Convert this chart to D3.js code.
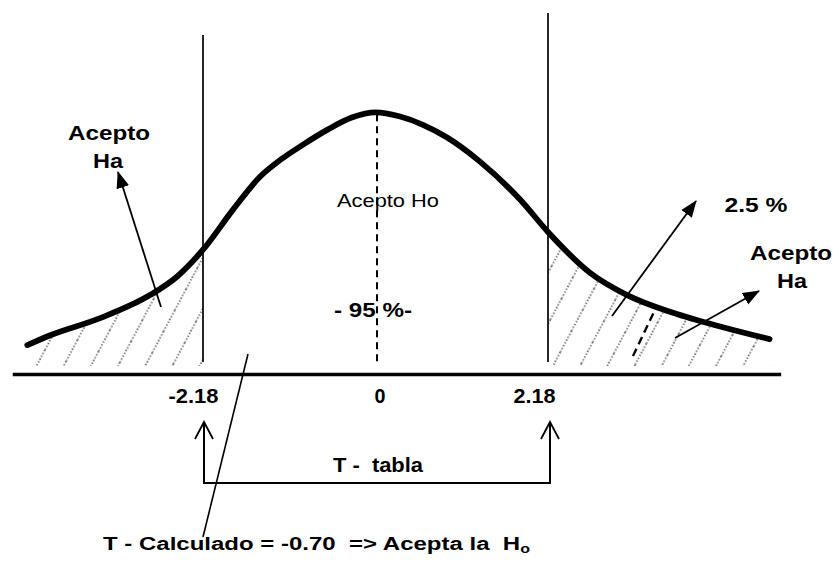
<!DOCTYPE html>
<html>
<head>
<meta charset="utf-8">
<script src="https://cdn.jsdelivr.net/npm/d3@7"></script>
<style>
  html, body { margin: 0; padding: 0; background: #fff; }
  svg { display: block; }
  text { font-family: "Liberation Sans", Arial, sans-serif; fill: #000; white-space: pre; }
</style>
</head>
<body>
<svg id="chart" width="839" height="562"></svg>
<script>
// ---- data ----
const curveT = [-4.40,-4.11,-3.48,-2.85,-2.51,-2.18,-1.80,-1.46,-1.21,-0.90,-0.60,-0.30,0,0.30,0.60,0.90,1.32,1.83,2.18,2.71,3.18,3.76,4.39,4.98];
const curveD = [0.044,0.059,0.085,0.120,0.148,0.189,0.250,0.300,0.325,0.350,0.372,0.390,0.398,0.392,0.379,0.360,0.323,0.265,0.216,0.154,0.120,0.093,0.071,0.053];
const criticalT = [-2.18, 2.18];
const tickValues = [-2.18, 0, 2.18];
const tickLabels = ["-2.18", "0", "2.18"];
const axisExtent = [-4.59, 5.12];
const tCalculado = -0.70;

// ---- scales ----
const svg = d3.select("#chart");
const x = d3.scaleLinear().domain([-2.18, 2.18]).range([203, 548]);
const y = d3.scaleLinear().domain([0, 0.4]).range([374, 111]);
const pts = curveT.map((t, i) => ({ t, d: curveD[i] }));

// ---- hatching pattern ----
const defs = svg.append("defs");
const pat = defs.append("pattern")
  .attr("id", "hatch").attr("patternUnits", "userSpaceOnUse")
  .attr("width", 24).attr("height", 24)
  .attr("patternTransform", "rotate(28)");
pat.append("line").attr("x1", 12).attr("y1", 0).attr("x2", 12).attr("y2", 24)
  .attr("stroke", "#222").attr("stroke-width", 1.3).attr("stroke-dasharray", "1.3 1.9");

defs.append("marker").attr("id", "tri")
  .attr("markerUnits", "userSpaceOnUse").attr("viewBox", "0 -7 17 14")
  .attr("markerWidth", 17).attr("markerHeight", 14)
  .attr("refX", 16).attr("refY", 0).attr("orient", "auto")
  .append("path").attr("d", "M0,-6.5L17,0L0,6.5Z").attr("fill", "#000");

// ---- tail hatch areas ----
const area = d3.area().curve(d3.curveMonotoneX)
  .x(p => x(p.t)).y0(366).y1(p => y(p.d) + 2);
svg.append("path").datum(pts.filter(p => p.t <= criticalT[0]))
  .attr("d", area).attr("fill", "url(#hatch)");
svg.append("path").datum(pts.filter(p => p.t >= criticalT[1]))
  .attr("d", area).attr("fill", "url(#hatch)");

// ---- axis ----
const xAxisScale = x.copy().domain(axisExtent).range(axisExtent.map(x));
const axis = d3.axisBottom(xAxisScale)
  .tickValues(tickValues).tickSize(0).tickSizeOuter(0).tickPadding(15)
  .tickFormat((d, i) => tickLabels[i]);
const gAxis = svg.append("g").attr("transform", `translate(0,${y(0)})`).call(axis);
gAxis.select(".domain").attr("stroke", "#000").attr("stroke-width", 3.5);
const tickDx = [-10, 4, -14];
const tickW = [50, 11, 42];
gAxis.selectAll(".tick text")
  .attr("font-family", "Liberation Sans, Arial, sans-serif")
  .attr("font-size", 20).attr("font-weight", "bold").attr("fill", "#000")
  .attr("x", (d, i) => tickDx[i])
  .attr("textLength", (d, i) => tickW[i]).attr("lengthAdjust", "spacingAndGlyphs");

// ---- critical lines ----
svg.append("line").attr("x1", x(criticalT[0])).attr("x2", x(criticalT[0]))
  .attr("y1", 35).attr("y2", 362).attr("stroke", "#000").attr("stroke-width", 1.7);
svg.append("line").attr("x1", x(criticalT[1])).attr("x2", x(criticalT[1]))
  .attr("y1", 13).attr("y2", 362).attr("stroke", "#000").attr("stroke-width", 1.7);

// ---- centre dashed line ----
svg.append("line").attr("x1", x(0) + 1.5).attr("x2", x(0) + 1.5)
  .attr("y1", y(0.398) + 2).attr("y2", 362)
  .attr("stroke", "#000").attr("stroke-width", 2).attr("stroke-dasharray", "7 5");

// ---- curve ----
const line = d3.line().curve(d3.curveMonotoneX).x(p => x(p.t)).y(p => y(p.d));
svg.append("path").datum(pts).attr("d", line)
  .attr("fill", "none").attr("stroke", "#000").attr("stroke-width", 5.8)
  .attr("stroke-linecap", "round").attr("stroke-linejoin", "round");

// dashed mark in right tail
svg.append("line").attr("x1", 633).attr("y1", 356).attr("x2", 654).attr("y2", 312)
  .attr("stroke", "#000").attr("stroke-width", 2.4).attr("stroke-dasharray", "8 5");

// ---- annotation arrows ----
function arrow(x1, y1, x2, y2) {
  svg.append("line").attr("x1", x1).attr("y1", y1).attr("x2", x2).attr("y2", y2)
    .attr("stroke", "#000").attr("stroke-width", 1.8).attr("marker-end", "url(#tri)");
}
arrow(161, 307, 118, 172);
arrow(612, 316, 696, 201);
arrow(675, 338, 759, 291);

// ---- text ----
function label(tx, ty, s, opt) {
  const t = svg.append("text").attr("x", tx).attr("y", ty)
    .attr("font-size", opt.size || 21)
    .attr("font-weight", opt.weight || "bold")
    .attr("text-anchor", opt.anchor || "middle")
    .text(s);
  if (opt.width) t.attr("textLength", opt.width).attr("lengthAdjust", "spacingAndGlyphs");
  return t;
}
label(109, 140, "Acepto", { width: 82 });
label(108, 168, "Ha", { width: 30 });
label(791, 260, "Acepto", { width: 82 });
label(792, 288, "Ha", { width: 30 });
label(756, 212, "2.5 %", { width: 63 });
label(388, 207, "Acepto Ho", { weight: "normal", size: 19, width: 102 });
label(373, 317, "- 95 %-", { width: 78 });
label(333, 472, "T -  tabla", { anchor: "start", width: 90 });

// T-tabla bracket with open arrows
const bx0 = x(criticalT[0]) + 1, bx1 = x(criticalT[1]) + 2, by = 483, tipY = 422;
svg.append("path")
  .attr("d", `M${bx0},${tipY}V${by}H${bx1}V${tipY}`)
  .attr("fill", "none").attr("stroke", "#000").attr("stroke-width", 2);
[bx0, bx1].forEach(bx => {
  svg.append("path").attr("d", `M${bx - 9},${tipY + 17}L${bx},${tipY}L${bx + 9},${tipY + 17}`)
    .attr("fill", "none").attr("stroke", "#000").attr("stroke-width", 1.8);
});

// T-calculado pointer line and text
svg.append("line").attr("x1", 248).attr("y1", 354).attr("x2", 203).attr("y2", 537)
  .attr("stroke", "#000").attr("stroke-width", 1.6);
const bt = svg.append("text").attr("x", 103).attr("y", 550)
  .attr("font-size", 18).attr("font-weight", "bold")
  .attr("textLength", 427).attr("lengthAdjust", "spacingAndGlyphs");
bt.append("tspan").text(`T - Calculado = ${tCalculado.toFixed(2)}  => Acepta la  H`);
bt.append("tspan").attr("font-size", 12).attr("dy", 3).text("o");
</script>
</body>
</html>
